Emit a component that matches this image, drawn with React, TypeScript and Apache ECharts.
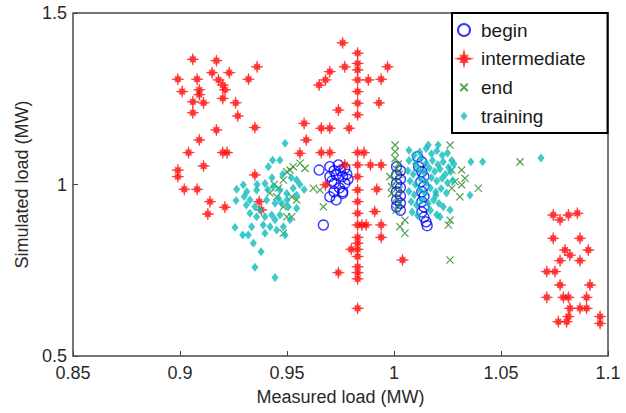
import React, { useEffect, useRef } from 'react';
import * as echarts from 'echarts';

const seriesNames = ['begin', 'intermediate', 'end', 'training'];
const xTickLabels = ['0.85', '0.9', '0.95', '1', '1.05', '1.1'];
const yTickLabels = ['0.5', '1', '1.5'];

const beginPts = [
  [0.965, 1.042], [0.970, 1.052], [0.974, 1.057], [0.977, 1.047], [0.970, 1.023], [0.973, 1.028],
  [0.976, 1.023], [0.972, 1.003], [0.977, 1.003], [0.972, 0.979], [0.976, 0.979], [0.970, 0.964],
  [0.973, 0.955], [0.976, 0.974], [0.967, 0.882], [0.975, 1.040], [0.972, 1.040], [0.978, 1.030],
  [0.9745, 0.990], [0.971, 1.010], [0.9785, 1.015],
  [1.0012, 1.052], [1.0030, 1.040], [1.0012, 1.028], [1.0030, 1.015], [1.0012, 1.003], [1.0030, 0.991],
  [1.0012, 0.979], [1.0030, 0.967], [1.0012, 0.955], [1.0030, 0.945], [1.0012, 0.935], [1.0030, 0.925],
  [1.0110, 1.081], [1.0130, 1.066], [1.0115, 1.052], [1.0130, 1.037], [1.0140, 1.023], [1.0125, 1.008],
  [1.0140, 0.994], [1.0130, 0.979], [1.0140, 0.965], [1.0130, 0.950], [1.0140, 0.935], [1.0130, 0.920],
  [1.0140, 0.905], [1.0150, 0.891], [1.0155, 0.880],
];

const intermediatePts = [
  [0.906, 1.365], [0.917, 1.361], [0.936, 1.343], [0.915, 1.326], [0.923, 1.326], [0.899, 1.307],
  [0.908, 1.307], [0.918, 1.305], [0.932, 1.307], [0.901, 1.271], [0.909, 1.276], [0.909, 1.262],
  [0.920, 1.290], [0.921, 1.276], [0.920, 1.251], [0.906, 1.241], [0.911, 1.238], [0.926, 1.238],
  [0.906, 1.209], [0.927, 1.200], [0.935, 1.166], [0.917, 1.159], [0.909, 1.130], [0.904, 1.093],
  [0.920, 1.093], [0.922, 1.093], [0.911, 1.054], [0.899, 1.042], [0.899, 1.023], [0.935, 1.028],
  [0.902, 0.986], [0.908, 0.986], [0.914, 0.950], [0.913, 0.914], [0.921, 0.934], [0.937, 0.950],
  [0.938, 0.926],
  [0.976, 1.413], [0.983, 1.383], [0.983, 1.353], [0.983, 1.334], [0.983, 1.305], [0.983, 1.271],
  [0.983, 1.237], [0.983, 1.203], [0.977, 1.343], [0.997, 1.343], [0.970, 1.329], [0.968, 1.305],
  [0.965, 1.290], [0.988, 1.305], [0.994, 1.307], [0.993, 1.238], [0.974, 1.217], [0.958, 1.178],
  [0.966, 1.164], [0.970, 1.164], [0.979, 1.164], [0.959, 1.130], [0.956, 1.091], [0.966, 1.093],
  [0.970, 1.093], [0.983, 1.093], [0.986, 1.093], [0.983, 1.057], [0.977, 1.057], [0.989, 1.057],
  [0.994, 1.057], [0.983, 1.023], [0.968, 0.999], [0.983, 0.984], [0.983, 0.950], [0.983, 0.916],
  [0.983, 0.882], [0.983, 0.846], [0.983, 0.811], [0.992, 0.986], [0.991, 0.921], [0.985, 0.882],
  [0.987, 0.882], [0.994, 0.882], [0.994, 0.846], [0.980, 0.811], [0.983, 0.829], [0.983, 0.790],
  [0.983, 0.760], [0.983, 0.725], [0.974, 0.743], [0.983, 0.743], [0.983, 0.639], [1.004, 0.780],
  [1.0744, 0.911], [1.0776, 0.897], [1.0815, 0.911], [1.0857, 0.916], [1.0744, 0.843], [1.0869, 0.843],
  [1.0799, 0.809], [1.0822, 0.794], [1.0908, 0.809], [1.0776, 0.778], [1.0869, 0.778], [1.0714, 0.746],
  [1.0752, 0.746], [1.0776, 0.707], [1.0916, 0.707], [1.0714, 0.671], [1.0791, 0.671], [1.0815, 0.671],
  [1.0900, 0.671], [1.0822, 0.639], [1.0869, 0.639], [1.0900, 0.639], [1.0768, 0.600], [1.0807, 0.600],
  [1.0815, 0.615], [1.0963, 0.615], [1.0963, 0.595],
];

const endPts = [
  [0.9514, 1.042], [0.9529, 1.052], [0.9483, 1.013], [0.9452, 0.964], [0.9483, 0.935], [0.9522, 0.906],
  [0.9483, 0.858], [0.9545, 0.955], [0.9561, 1.062], [0.9584, 1.047], [0.9499, 1.037], [0.9670, 0.935],
  [0.9623, 0.989], [0.9654, 0.984], [0.9522, 0.964], [0.9499, 0.906], [0.9460, 0.990], [0.9420, 0.975],
  [0.9440, 1.000],
  [1.0005, 1.115], [1.0005, 1.096], [1.0005, 1.076], [1.0020, 1.060], [1.0010, 1.045], [1.0025, 1.030],
  [1.0010, 1.010], [1.0025, 0.985], [1.0010, 0.960], [1.0025, 0.945], [1.0010, 0.926],
  [1.0262, 1.115], [1.0589, 1.066], [1.0394, 0.989], [1.0316, 1.042], [1.0332, 1.018], [1.0285, 1.008],
  [1.0316, 0.999], [1.0308, 0.964], [1.0262, 0.896], [1.0254, 0.882], [1.0051, 0.896], [1.0051, 0.858],
  [1.0028, 0.877], [1.0262, 0.780], [0.9981, 1.023], [0.9989, 0.994], [1.0270, 1.042], [1.0270, 0.989],
  [0.9989, 0.974],
];

const trainingPts = [
  [0.9433, 1.071], [0.9467, 1.071], [0.9413, 1.052], [0.9257, 0.875], [0.9293, 0.853], [0.9319, 0.853],
  [0.9343, 0.829], [0.9379, 0.804], [0.9350, 0.759], [0.9444, 0.729], [0.9265, 0.986], [0.9296, 0.999],
  [0.9312, 0.979], [0.9262, 0.953], [0.9327, 0.955], [0.9358, 0.984], [0.9327, 0.916], [0.9335, 0.877],
  [0.9358, 0.906], [0.9389, 0.882], [0.9397, 0.858], [0.9421, 0.877], [0.9444, 0.897], [0.9452, 0.867],
  [0.9483, 0.877], [0.9491, 0.853], [0.9514, 0.897], [0.9545, 0.931], [0.9397, 1.003], [0.9436, 0.994],
  [0.9467, 0.984], [0.9499, 0.974], [0.9529, 0.989], [0.9405, 0.955], [0.9444, 0.945], [0.9475, 0.945],
  [0.9506, 0.935], [0.9374, 0.926], [0.9397, 0.906], [0.9429, 0.911], [0.9467, 0.911], [0.9545, 0.969],
  [0.9545, 1.013], [0.9491, 1.120], [0.9560, 1.000], [0.9580, 0.985], [0.9520, 1.020], [0.9480, 1.030],
  [0.9430, 1.020], [0.9360, 1.000], [0.9310, 0.940], [0.9350, 0.935], [0.9460, 0.960], [0.9500, 0.955],
  [0.9410, 0.985], [0.9300, 0.965],
  [1.0070, 1.100], [1.0095, 1.085], [1.0120, 1.095], [1.0150, 1.105], [1.0175, 1.090], [1.0200, 1.098],
  [1.0225, 1.085], [1.0250, 1.092], [1.0270, 1.070], [1.0160, 1.115],
  [1.0070, 1.070], [1.0100, 1.060], [1.0125, 1.075], [1.0150, 1.062], [1.0180, 1.070], [1.0205, 1.058],
  [1.0230, 1.066], [1.0255, 1.050], [1.0280, 1.060],
  [1.0065, 1.040], [1.0090, 1.030], [1.0115, 1.045], [1.0140, 1.035], [1.0165, 1.048], [1.0190, 1.038],
  [1.0215, 1.045], [1.0240, 1.030], [1.0265, 1.038],
  [1.0075, 1.010], [1.0100, 1.000], [1.0125, 1.015], [1.0150, 1.005], [1.0175, 1.020], [1.0200, 1.010],
  [1.0225, 1.018], [1.0250, 1.005], [1.0275, 1.012],
  [1.0070, 0.980], [1.0095, 0.970], [1.0120, 0.985], [1.0145, 0.975], [1.0170, 0.990], [1.0195, 0.978],
  [1.0220, 0.988], [1.0245, 0.975],
  [1.0080, 0.950], [1.0105, 0.940], [1.0130, 0.955], [1.0160, 0.945], [1.0185, 0.955], [1.0210, 0.945],
  [1.0230, 0.935], [1.0085, 0.920], [1.0110, 0.910], [1.0170, 0.925], [1.0200, 0.912],
  [1.0206, 1.115], [1.0359, 1.066], [1.0414, 1.066], [1.0355, 0.969], [1.0215, 0.906], [1.0262, 0.926],
  [1.0196, 0.969], [1.0687, 1.077],
];

const STAR =
  'path://M12 6L8.2 6.9L8.9 8.9L6.9 8.2L6 12L5.1 8.2L3.1 8.9L3.8 6.9L0 6L3.8 5.1L3.1 3.1L5.1 3.8L6 0L6.9 3.8L8.9 3.1L8.2 5.1Z';
// X mark with invisible margins so the legend icon stays small
const XMARK = 'path://M-3 -3M0 0L10 10M0 10L10 0M13 13';
// diamond with invisible margins
const DIAMOND = 'path://M-3 -2M4 0L8 5L4 10L0 5ZM11 12';
const FONT = 'Liberation Sans, Arial, sans-serif';

function fmt(list: string[]) {
  return (v: number) => {
    const s = String(Math.round(v * 100) / 100);
    return list.includes(s) ? s : '';
  };
}

export default function App() {
  const ref = useRef<HTMLDivElement>(null);
  useEffect(() => {
    if (!ref.current) return;
    const chart = echarts.init(ref.current, null, { renderer: 'svg' });
    chart.setOption({
      animation: false,
      backgroundColor: '#fff',
      grid: {
        left: 73, top: 13, width: 535, height: 343,
        show: true, borderColor: '#4a4a4a', borderWidth: 1.5, backgroundColor: '#fff',
      },
      xAxis: {
        type: 'value', min: 0.85, max: 1.1, interval: 0.05,
        axisLine: { show: false },
        axisTick: { show: true, inside: true, length: 5, lineStyle: { color: '#444' } },
        splitLine: { show: false },
        axisLabel: { formatter: fmt(xTickLabels), fontSize: 18, color: '#2a2a2a', fontFamily: FONT, margin: 8 },
        name: 'Measured load (MW)', nameLocation: 'middle', nameGap: 32,
        nameTextStyle: { fontSize: 18, color: '#2a2a2a', fontFamily: FONT },
      },
      yAxis: {
        type: 'value', min: 0.5, max: 1.5, interval: 0.5,
        axisLine: { show: false },
        axisTick: { show: true, inside: true, length: 5, lineStyle: { color: '#444' } },
        splitLine: { show: false },
        axisLabel: { formatter: fmt(yTickLabels), fontSize: 18, color: '#2a2a2a', fontFamily: FONT, margin: 6 },
        name: 'Simulated load (MW)', nameLocation: 'middle', nameGap: 39,
        nameTextStyle: { fontSize: 18, color: '#2a2a2a', fontFamily: FONT },
      },
      legend: {
        orient: 'vertical', left: 452, top: 13,
        padding: [7, 22, 7, 5],
        itemWidth: 12, itemHeight: 12, itemGap: 8.7,
        backgroundColor: '#fff', borderColor: '#000', borderWidth: 2,
        textStyle: { fontSize: 19, lineHeight: 20, color: '#1a1a1a', fontFamily: FONT, padding: [0, 0, 0, 6] },
        data: seriesNames,
      },
      series: [
        {
          name: seriesNames[0], type: 'scatter', data: beginPts, symbol: 'circle', symbolSize: 10,
          itemStyle: { color: 'rgba(0,0,0,0)', borderColor: '#0000ff', borderWidth: 1.4 },
        },
        {
          name: seriesNames[1], type: 'scatter', data: intermediatePts, symbol: STAR, symbolSize: 12,
          itemStyle: { color: '#ff0000', borderColor: '#ff2020', borderWidth: 0.6 },
        },
        {
          name: seriesNames[2], type: 'scatter', data: endPts, symbol: XMARK, symbolSize: 11.5,
          itemStyle: { color: 'rgba(0,0,0,0)', borderColor: '#2f8f2f', borderWidth: 1.2, opacity: 0.85 },
        },
        {
          name: seriesNames[3], type: 'scatter', data: trainingPts, symbol: DIAMOND, symbolSize: 12.5,
          itemStyle: { color: '#10bcbc' },
        },
      ],
    });
    return () => chart.dispose();
  }, []);
  return <div ref={ref} style={{ position: 'fixed', left: 0, top: 0, width: 626, height: 413 }} />;
}
